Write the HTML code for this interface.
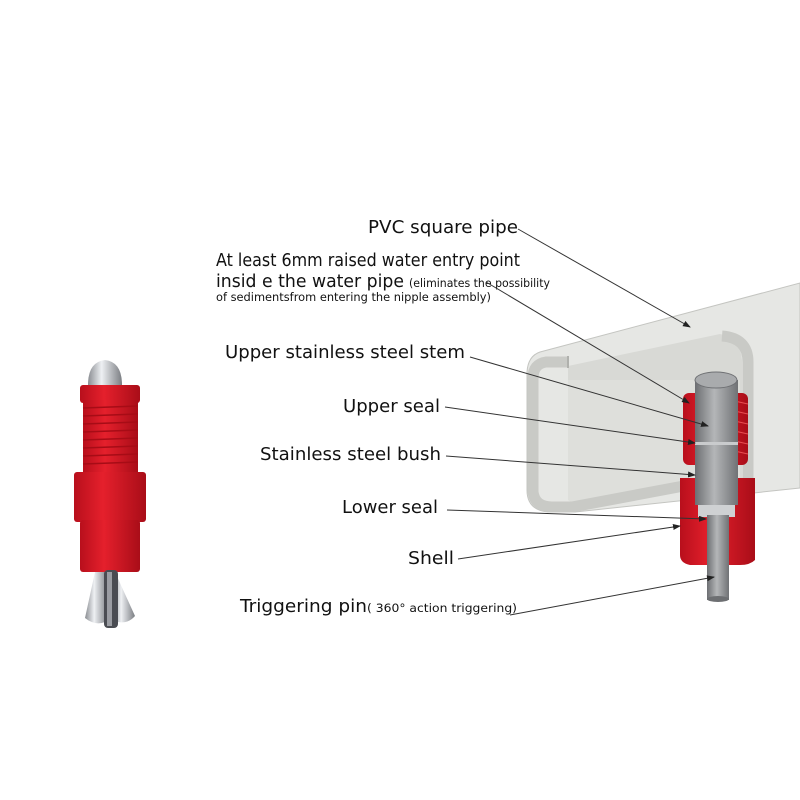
<!DOCTYPE html>
<html><head><meta charset="utf-8"><style>
html,body{margin:0;padding:0;background:#fff;}
svg{display:block}
text{font-family:"DejaVu Sans","Liberation Sans",sans-serif;fill:#111}
</style></head><body>
<svg width="800" height="800" viewBox="0 0 800 800" xmlns="http://www.w3.org/2000/svg">
<defs>
<linearGradient id="stem" x1="0" x2="1"><stop offset="0" stop-color="#6d6f72"/><stop offset="0.45" stop-color="#b4b6b8"/><stop offset="1" stop-color="#707275"/></linearGradient>
<linearGradient id="red" x1="0" x2="1"><stop offset="0" stop-color="#b80f1c"/><stop offset="0.4" stop-color="#e5202c"/><stop offset="1" stop-color="#a90d18"/></linearGradient>
<linearGradient id="silver" x1="0" x2="1"><stop offset="0" stop-color="#8a8d92"/><stop offset="0.4" stop-color="#eef0f3"/><stop offset="1" stop-color="#7a7d82"/></linearGradient>
<marker id="ar" markerWidth="8" markerHeight="6" refX="7" refY="3" orient="auto"><path d="M0,0 L8,3 L0,6 z" fill="#222"/></marker>
</defs>

<!-- Pipe body -->
<path d="M540,352 L800,283 L800,488 L575,512 L548,512 Q527,510 527,490 L527,372 Q528,356 540,352 Z" fill="#e6e7e4" stroke="#c4c5c1" stroke-width="1"/>
<!-- inner cavity -->
<path d="M568,366 L720,334 Q740,338 742,360 L742,478 L568,500 Z" fill="#d8d9d5"/>
<path d="M568,380 L740,380 L740,478 L575,505 L568,500 Z" fill="#dedfdb"/>
<!-- C profile front face -->
<path d="M568,362 L546,362 Q533,364 533,378 L533,492 Q535,507 552,507 L572,507 L705,482" fill="none" stroke="#c9cac6" stroke-width="11"/>
<path d="M722,336 Q748,338 748,362 L748,478 Q746,488 736,486" fill="none" stroke="#c9cac6" stroke-width="11"/>
<path d="M568,356 L568,368" stroke="#b0b1ad" stroke-width="2"/>

<!-- red upper thread -->
<rect x="683" y="393" width="65" height="72" rx="6" fill="url(#red)"/>
<g stroke="#ff6a6a" stroke-width="1" opacity="0.7">
<line x1="730" y1="400" x2="748" y2="404"/><line x1="730" y1="410" x2="748" y2="414"/><line x1="730" y1="420" x2="748" y2="424"/><line x1="730" y1="430" x2="748" y2="434"/><line x1="730" y1="440" x2="748" y2="444"/><line x1="730" y1="450" x2="748" y2="454"/>
</g>
<!-- red shell -->
<path d="M680,478 L755,478 L755,560 Q750,565 740,565 L690,565 Q680,563 680,555 Z" fill="url(#red)"/>
<!-- stem -->
<rect x="695" y="380" width="43" height="125" fill="url(#stem)"/>
<ellipse cx="716" cy="380" rx="21" ry="8" fill="#a9abad" stroke="#6f7174"/>
<rect x="695" y="442" width="43" height="3" fill="#c9cbcd"/>
<rect x="698" y="505" width="37" height="12" fill="#cfd1d3"/>
<rect x="707" y="515" width="22" height="85" fill="url(#stem)"/>
<ellipse cx="718" cy="599" rx="11" ry="3" fill="#6d6f72"/>

<!-- Labels -->
<text x="368" y="233" font-size="17.5" textLength="150" lengthAdjust="spacingAndGlyphs">PVC square pipe</text>
<text x="216" y="266" font-size="18" textLength="304" lengthAdjust="spacingAndGlyphs">At least 6mm raised water entry point</text>
<text x="216" y="287" font-size="18" textLength="188" lengthAdjust="spacingAndGlyphs">insid e the water pipe</text>
<text x="409" y="287" font-size="11.5" textLength="141" lengthAdjust="spacingAndGlyphs">(eliminates the possibility</text>
<text x="216" y="301" font-size="11.5" textLength="275" lengthAdjust="spacingAndGlyphs">of  sedimentsfrom entering the nipple assembly)</text>
<text x="225" y="358" font-size="17.5" textLength="240" lengthAdjust="spacingAndGlyphs">Upper stainless steel stem</text>
<text x="343" y="412" font-size="17.5" textLength="97" lengthAdjust="spacingAndGlyphs">Upper seal</text>
<text x="260" y="460" font-size="17.5" textLength="181" lengthAdjust="spacingAndGlyphs">Stainless steel bush</text>
<text x="342" y="513" font-size="17.5" textLength="96" lengthAdjust="spacingAndGlyphs">Lower seal</text>
<text x="408" y="564" font-size="17.5" textLength="46" lengthAdjust="spacingAndGlyphs">Shell</text>
<text x="240" y="612" font-size="17.5" textLength="127" lengthAdjust="spacingAndGlyphs">Triggering pin</text>
<text x="367" y="612" font-size="11.5" textLength="150" lengthAdjust="spacingAndGlyphs">( 360° action triggering)</text>

<!-- leaders -->
<g stroke="#333" stroke-width="1" fill="none" marker-end="url(#ar)">
<line x1="518" y1="229" x2="690" y2="327"/>
<line x1="486" y1="282" x2="689" y2="403"/>
<line x1="470" y1="357" x2="708" y2="426"/>
<line x1="445" y1="407" x2="695" y2="443"/>
<line x1="446" y1="456" x2="695" y2="475"/>
<line x1="447" y1="510" x2="706" y2="519"/>
<line x1="458" y1="559" x2="680" y2="526"/>
<line x1="510" y1="615" x2="714" y2="577"/>
</g>

<!-- Left nipple photo -->
<path d="M88,385 Q88,362 105,360 Q122,362 122,385 Z" fill="url(#silver)"/>
<rect x="80" y="385" width="60" height="18" rx="3" fill="url(#red)"/>
<rect x="83" y="400" width="55" height="72" fill="url(#red)"/>
<g stroke="#a70c16" stroke-width="1.5">
<line x1="83" y1="408" x2="138" y2="406"/><line x1="83" y1="416" x2="138" y2="414"/><line x1="83" y1="424" x2="138" y2="422"/><line x1="83" y1="432" x2="138" y2="430"/><line x1="83" y1="440" x2="138" y2="438"/><line x1="83" y1="448" x2="138" y2="446"/><line x1="83" y1="456" x2="138" y2="454"/><line x1="83" y1="464" x2="138" y2="462"/>
</g>
<rect x="74" y="472" width="72" height="50" rx="3" fill="url(#red)"/>
<rect x="80" y="520" width="60" height="52" rx="3" fill="url(#red)"/>
<path d="M95,572 L85,618 Q95,626 105,622 L108,572 Z" fill="url(#silver)"/>
<path d="M115,572 L135,616 Q128,624 118,622 L112,572 Z" fill="url(#silver)"/>
<rect x="104" y="570" width="14" height="58" rx="4" fill="#4a4c52"/>
<rect x="107" y="572" width="5" height="54" fill="#9a9ca2"/>
</svg>
</body></html>
